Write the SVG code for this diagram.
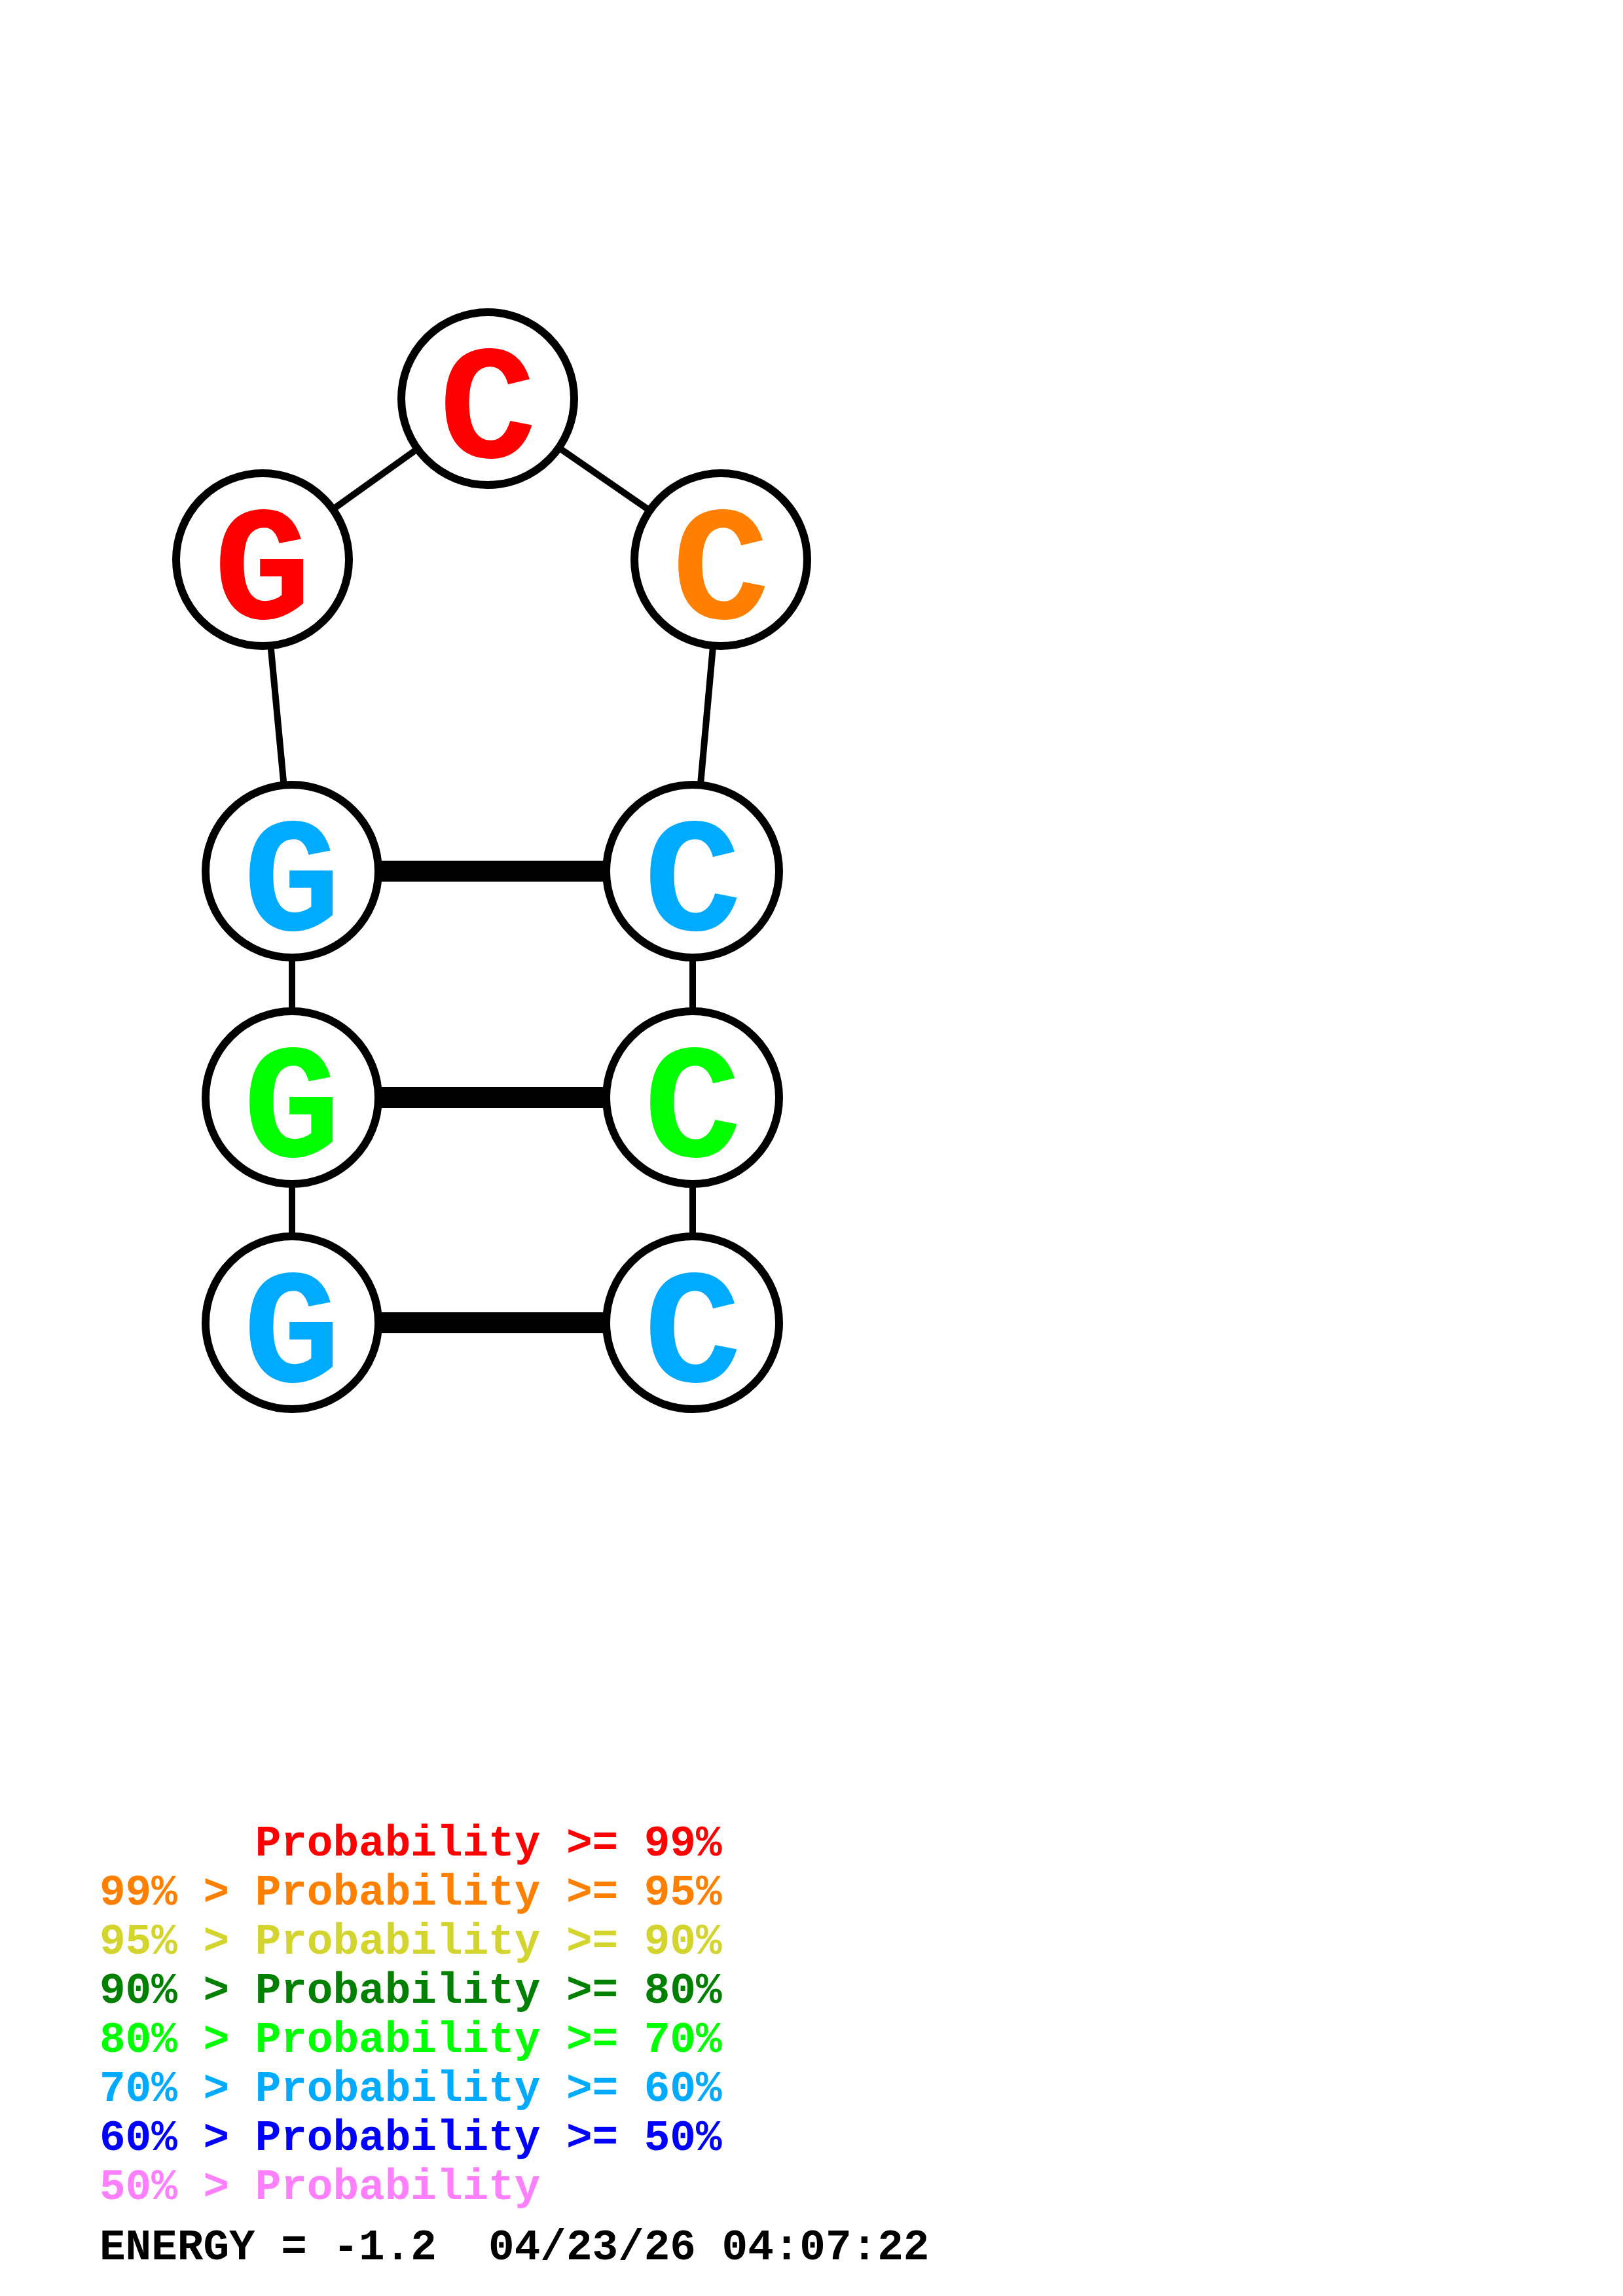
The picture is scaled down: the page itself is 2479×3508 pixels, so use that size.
<svg xmlns="http://www.w3.org/2000/svg" width="2479" height="3508" viewBox="0 0 2479 3508">
<style>
.nd{fill:#fff;stroke:#000;stroke-width:12}
.bb{stroke:#000;stroke-width:10;fill:none}
.bp{stroke:#000;stroke-width:32;fill:none}
.base{font-family:"Liberation Mono","Courier New",monospace;font-weight:bold;font-size:248px;text-anchor:middle}
.lg{font-family:"Liberation Mono","Courier New",monospace;font-weight:bold;font-size:66px;white-space:pre}
</style>
<rect width="2479" height="3508" fill="#fff"/>
<g id="connectors">
<line class="bb" x1="745" y1="609" x2="401" y2="855"/>
<line class="bb" x1="745" y1="609" x2="1101" y2="855"/>
<line class="bb" x1="401" y1="855" x2="446" y2="1331"/>
<line class="bb" x1="1101" y1="855" x2="1058" y2="1331"/>
<line class="bb" x1="446" y1="1331" x2="446" y2="2021"/>
<line class="bb" x1="1058" y1="1331" x2="1058" y2="2021"/>
<line class="bp" x1="446" y1="1331" x2="1058" y2="1331"/>
<line class="bp" x1="446" y1="1677" x2="1058" y2="1677"/>
<line class="bp" x1="446" y1="2021" x2="1058" y2="2021"/>
</g>
<g id="n1"><circle class="nd" cx="446" cy="2021" r="132"/><text class="base" x="446" y="2111" fill="#00AAFF">G</text></g>
<g id="n2"><circle class="nd" cx="446" cy="1677" r="132"/><text class="base" x="446" y="1767" fill="#00FF00">G</text></g>
<g id="n3"><circle class="nd" cx="446" cy="1331" r="132"/><text class="base" x="446" y="1421" fill="#00AAFF">G</text></g>
<g id="n4"><circle class="nd" cx="401" cy="855" r="132"/><text class="base" x="401" y="945" fill="#FF0000">G</text></g>
<g id="n5"><circle class="nd" cx="745" cy="609" r="132"/><text class="base" x="745" y="699" fill="#FF0000">C</text></g>
<g id="n6"><circle class="nd" cx="1101" cy="855" r="132"/><text class="base" x="1101" y="945" fill="#FF8000">C</text></g>
<g id="n7"><circle class="nd" cx="1058" cy="1331" r="132"/><text class="base" x="1058" y="1421" fill="#00AAFF">C</text></g>
<g id="n8"><circle class="nd" cx="1058" cy="1677" r="132"/><text class="base" x="1058" y="1767" fill="#00FF00">C</text></g>
<g id="n9"><circle class="nd" cx="1058" cy="2021" r="132"/><text class="base" x="1058" y="2111" fill="#00AAFF">C</text></g>
<g id="legend">
<text class="lg" x="152" y="2835" fill="#FF0000">      Probability &gt;= 99%</text>
<text class="lg" x="152" y="2910" fill="#FF8000">99% &gt; Probability &gt;= 95%</text>
<text class="lg" x="152" y="2985" fill="#D4D42E">95% &gt; Probability &gt;= 90%</text>
<text class="lg" x="152" y="3060" fill="#008000">90% &gt; Probability &gt;= 80%</text>
<text class="lg" x="152" y="3135" fill="#00FF00">80% &gt; Probability &gt;= 70%</text>
<text class="lg" x="152" y="3210" fill="#00AAFF">70% &gt; Probability &gt;= 60%</text>
<text class="lg" x="152" y="3285" fill="#0000FF">60% &gt; Probability &gt;= 50%</text>
<text class="lg" x="152" y="3360" fill="#FF80FF">50% &gt; Probability</text>
<text class="lg" x="152" y="3452" fill="#000000">ENERGY = -1.2  04/23/26 04:07:22</text>
</g>
</svg>
